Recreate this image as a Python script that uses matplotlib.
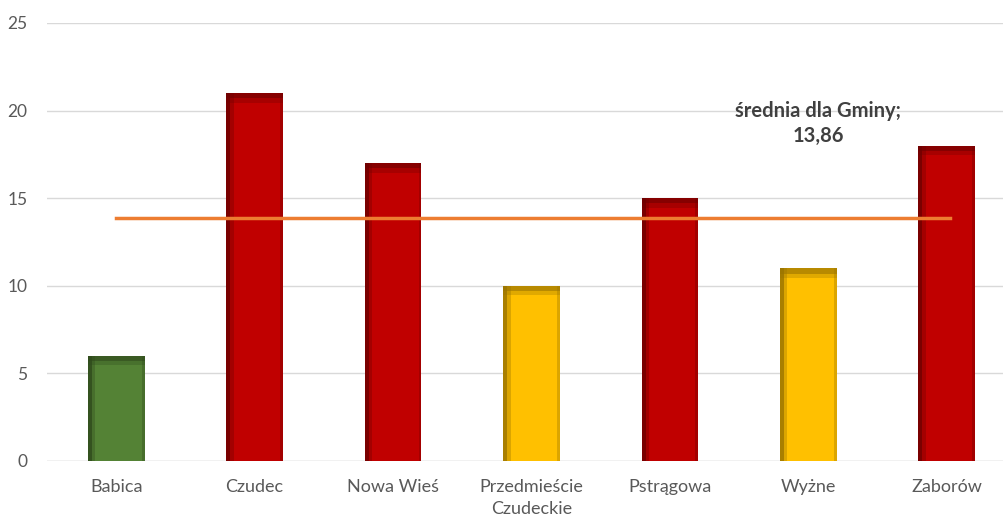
import matplotlib
matplotlib.use("Agg")
import matplotlib.pyplot as plt
from matplotlib.patches import Rectangle

# Dane
categories = ["Babica", "Czudec", "Nowa Wieś", "Przedmieście\nCzudeckie",
              "Pstrągowa", "Wyżne", "Zaborów"]
values = [6, 21, 17, 10, 15, 11, 18]
colors = ["#548235", "#C00000", "#C00000", "#FFC000", "#C00000", "#FFC000", "#C00000"]
shades = ["#2F4A1C", "#6E0000", "#6E0000", "#9A7400", "#6E0000", "#9A7400", "#6E0000"]
average = 13.86
avg_label = "średnia dla Gminy;\n13,86"

plt.rcParams["font.family"] = ["Lato", "DejaVu Sans"]

fig = plt.figure(figsize=(10.04, 5.19), dpi=100)
ax = fig.add_axes([47 / 1004, 0.1118, 969 / 1004, 0.8439])

x = list(range(len(categories)))
bw = 0.41
bars = ax.bar(x, values, width=bw, color=colors, zorder=3)

# efekt skosu (bevel): ciemniejsze krawędzie
for b, sh in zip(bars, shades):
    x0, w, h = b.get_x(), b.get_width(), b.get_height()
    ax.add_patch(Rectangle((x0, 0), w * 0.07, h, color=sh, alpha=0.85, zorder=4, lw=0))
    ax.add_patch(Rectangle((x0 + w * 0.07, 0), w * 0.06, h, color=sh, alpha=0.35, zorder=4, lw=0))
    ax.add_patch(Rectangle((x0, h - 0.3), w, 0.3, color=sh, alpha=0.7, zorder=4, lw=0))
    ax.add_patch(Rectangle((x0, h - 0.55), w, 0.25, color=sh, alpha=0.3, zorder=4, lw=0))
    ax.add_patch(Rectangle((x0 + w * 0.95, 0), w * 0.05, h, color=sh, alpha=0.35, zorder=4, lw=0))

ax.plot([x[0], x[-1] + 0.02], [average, average], color="#ED7D31", lw=2.5, zorder=5)
ax.text(5.07, 19.25, avg_label, ha="center", va="center", fontsize=14.5,
        fontweight="bold", color="#404040", zorder=6, linespacing=1.3)

ax.set_xlim(-0.5, len(categories) - 0.5)
ax.set_ylim(0, 25)
ax.set_yticks(range(0, 26, 5))
ax.set_xticks(x)
ax.set_xticklabels(categories, linespacing=1.45)
ax.yaxis.grid(True, color="#D9D9D9", lw=1, zorder=0)
ax.set_axisbelow(True)
for s in ax.spines.values():
    s.set_visible(False)
ax.axhline(0, color="#D9D9D9", lw=1, zorder=1)
ax.tick_params(length=0, labelsize=13, colors="#595959", pad=13)
ax.tick_params(axis="y", labelsize=12.5, pad=14)

fig.savefig("out.png", dpi=100)
